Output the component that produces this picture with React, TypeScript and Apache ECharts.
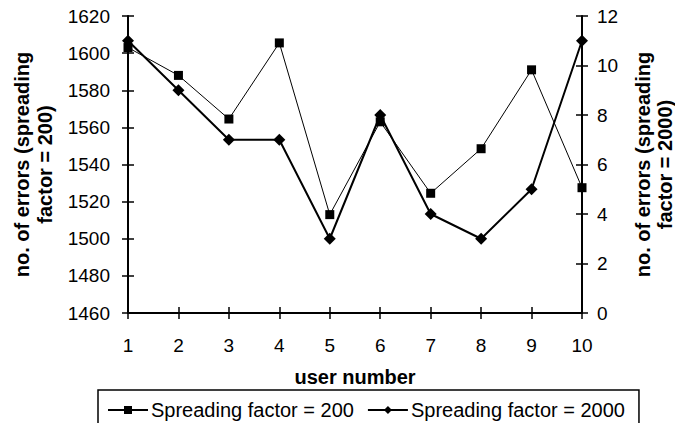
import React, { useEffect, useRef } from "react";
import * as echarts from "echarts";

const users = ["1", "2", "3", "4", "5", "6", "7", "8", "9", "10"];
const errorsSF200 = [1603, 1588, 1564.5, 1605.5, 1513, 1563, 1524.5, 1548.5, 1591, 1527.5];
const errorsSF2000 = [11, 9, 7, 7, 3, 8, 4, 3, 5, 11];
const leftTicks = { min: 1460, max: 1620, interval: 20 };
const rightTicks = { min: 0, max: 12, interval: 2 };

const FONT = "'Liberation Sans', Arial, sans-serif";

export default function App() {
  const ref = useRef<HTMLDivElement>(null);
  useEffect(() => {
    if (!ref.current) return;
    const chart = echarts.init(ref.current, undefined, { renderer: "svg" });
    const axisLine = { show: true, lineStyle: { color: "#000", width: 2 } };
    const tickStyle = { color: "#000", width: 1.5 };
    const plain = (v: number) => String(v);
    chart.setOption({
      animation: false,
      backgroundColor: "#fff",
      textStyle: { fontFamily: FONT, color: "#000" },
      grid: { left: 128, right: 93, top: 16, bottom: 110, containLabel: false, outerBoundsMode: "none" },
      legend: {
        left: 98,
        top: 390,
        itemGap: 13,
        itemWidth: 40,
        itemHeight: 10,
        padding: [10, 14, 30, 9],
        borderColor: "#000",
        borderWidth: 1.5,
        textStyle: { fontFamily: FONT, fontSize: 20, color: "#000", padding: [0, 0, 0, -2] },
        data: ["Spreading factor = 200", "Spreading factor = 2000"],
      },
      xAxis: [
        {
          type: "category",
          data: users,
          boundaryGap: false,
          position: "bottom",
          axisLine,
          axisTick: { show: true, inside: false, length: 6, lineStyle: tickStyle },
          axisLabel: { fontSize: 19, color: "#000", margin: 23, fontFamily: FONT },
          splitLine: { show: false },
          name: "user number",
          nameLocation: "middle",
          nameGap: 54,
          nameTextStyle: { fontSize: 20, fontWeight: "bold", color: "#000", fontFamily: FONT },
        },
        {
          type: "category",
          data: users,
          boundaryGap: false,
          position: "bottom",
          axisLine: { show: false },
          axisTick: { show: true, inside: true, length: 6, lineStyle: tickStyle },
          axisLabel: { show: false },
          splitLine: { show: false },
        },
      ],
      yAxis: [
        {
          type: "value",
          position: "left",
          ...leftTicks,
          axisLine,
          axisTick: { show: true, inside: false, length: 6, lineStyle: tickStyle },
          axisLabel: { fontSize: 19, color: "#000", margin: 18, fontFamily: FONT, formatter: plain },
          splitLine: { show: false },
          name: "no. of errors (spreading\nfactor = 200)",
          nameLocation: "middle",
          nameRotate: 90,
          nameGap: 70,
          nameTextStyle: { fontSize: 20, fontWeight: "bold", color: "#000", lineHeight: 23, fontFamily: FONT },
        },
        {
          type: "value",
          position: "right",
          ...rightTicks,
          axisLine,
          axisTick: { show: true, inside: false, length: 6, lineStyle: tickStyle },
          axisLabel: { fontSize: 19, color: "#000", margin: 15, fontFamily: FONT, formatter: plain },
          splitLine: { show: false },
          name: "no. of errors (spreading\nfactor = 2000)",
          nameLocation: "middle",
          nameRotate: 90,
          nameGap: 50,
          nameTextStyle: { fontSize: 20, fontWeight: "bold", color: "#000", lineHeight: 22, fontFamily: FONT },
        },
        {
          type: "value",
          position: "left",
          ...leftTicks,
          axisLine: { show: false },
          axisTick: { show: true, inside: true, length: 6, lineStyle: tickStyle },
          axisLabel: { show: false },
          splitLine: { show: false },
        },
        {
          type: "value",
          position: "right",
          ...rightTicks,
          axisLine: { show: false },
          axisTick: { show: true, inside: true, length: 6, lineStyle: tickStyle },
          axisLabel: { show: false },
          splitLine: { show: false },
        },
      ],
      series: [
        {
          name: "Spreading factor = 200",
          type: "line",
          yAxisIndex: 0,
          data: errorsSF200,
          symbol: "rect",
          symbolSize: 9,
          lineStyle: { color: "#000", width: 1 },
          itemStyle: { color: "#000" },
          z: 3,
        },
        {
          name: "Spreading factor = 2000",
          type: "line",
          yAxisIndex: 1,
          data: errorsSF2000,
          symbol: "diamond",
          symbolSize: 12,
          lineStyle: { color: "#000", width: 2 },
          itemStyle: { color: "#000" },
          z: 4,
        },
      ],
    });
    return () => chart.dispose();
  }, []);
  return (
    <div
      ref={ref}
      style={{ position: "fixed", left: 0, top: 0, width: 675, height: 423 }}
    />
  );
}
